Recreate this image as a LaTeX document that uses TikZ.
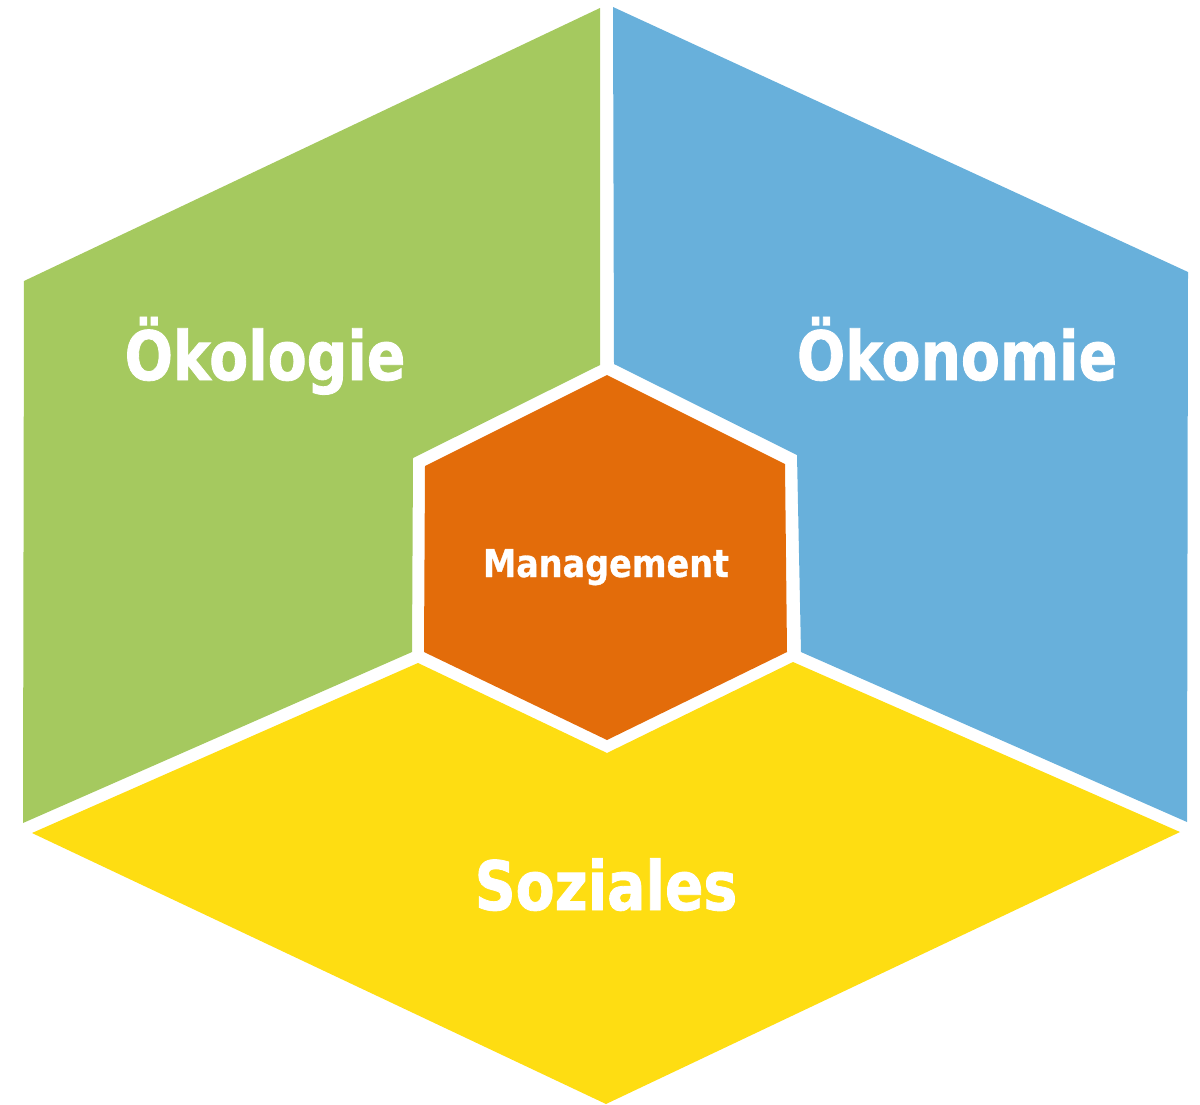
\documentclass[tikz,border=0pt]{standalone}
\usepackage{fontspec}
\newfontfamily\lblfont[FakeStretch=0.835,FakeBold=1.2]{DejaVu Sans Bold}
\newfontfamily\mgmtfont[FakeStretch=0.87,FakeBold=0.8]{DejaVu Sans Bold}
\definecolor{oekogreen}{RGB}{165,201,95}
\definecolor{oekoblue}{RGB}{104,176,219}
\definecolor{sozyellow}{RGB}{254,221,18}
\definecolor{mgmtorange}{RGB}{227,108,10}
\tikzset{
  panel/.style={draw=none},
  biglabel/.style={text=white, font=\lblfont\fontsize{34}{40}\selectfont, anchor=base, inner sep=0pt},
  smalllabel/.style={text=white, font=\mgmtfont\fontsize{19.2}{23}\selectfont, anchor=base, inner sep=0pt}
}
\begin{document}
\begin{tikzpicture}[x=0.5pt,y=-0.5pt]
\useasboundingbox (0,0) rectangle (1200,1104);
% Oekologie (green)
\fill[panel, oekogreen] (600,8) -- (24,281) -- (23,823) -- (412,652) -- (413,458) -- (600,365) -- cycle;
% Oekonomie (blue)
\fill[panel, oekoblue] (613,7) -- (1188,272) -- (1187,822) -- (801,652) -- (797,455) -- (614,364) -- cycle;
% Soziales (yellow)
\fill[panel, sozyellow] (32,833) -- (418,663) -- (607,753) -- (793,662) -- (1180,832) -- (606,1104) -- cycle;
% Management (orange)
\fill[panel, mgmtorange] (607,375) -- (785,464) -- (787,652) -- (607,740) -- (424,652) -- (425,466) -- cycle;
\node[biglabel] (oekologie) at (265,380) {Ökologie};
\node[biglabel] (oekonomie) at (957,380) {Ökonomie};
\node[biglabel] (soziales) at (606,910) {Soziales};
\node[smalllabel] (management) at (606,577) {Management};
\end{tikzpicture}
\end{document}
